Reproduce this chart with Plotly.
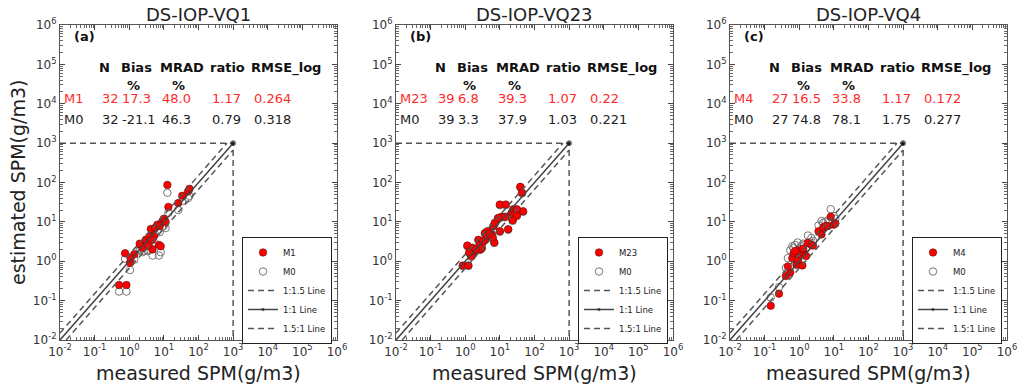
import plotly.graph_objects as go

# ---------------- data ----------------
titles = ["DS-IOP-VQ1", "DS-IOP-VQ23", "DS-IOP-VQ4"]
panel_tags = ["(a)", "(b)", "(c)"]
model_names = ["M1", "M23", "M4"]

a_measured = [12.6, 0.51, 0.83, 0.76, 1.05, 1.4, 2.1, 2.7, 3.3, 4.2, 4.7, 5.2, 6.5, 7.2, 8.1, 9.1,
              10, 13.5, 26, 34, 50, 55, 3.0, 1.1, 2.4, 3.8, 5.6, 7.6, 3.5, 2.0, 4.6, 11.2]
a_model = [87, 0.25, 0.25, 1.6, 0.91, 1.5, 2.6, 2.4, 3.0, 6.6, 2.0, 4.4, 8.5, 2.6, 2.4, 10.5,
           12, 24, 30, 46, 60, 69, 3.5, 1.2, 2.2, 4.2, 7.1, 7.9, 2.5, 2.8, 3.5, 10]
a_m0 = [55, 0.17, 0.17, 1.15, 0.6, 1.1, 2.0, 1.8, 1.9, 4.5, 1.4, 3.0, 6.0, 1.4, 1.7, 7.5,
        8.0, 17, 20, 34, 40, 46, 2.4, 0.95, 1.7, 3.0, 4.8, 5.5, 1.8, 2.0, 2.5, 7.0]

b_measured = [0.85, 1.23, 1.15, 1.6, 1.7, 1.5, 2.4, 2.6, 2.7, 3.0, 3.7, 3.7, 4.4, 4.2, 5.9, 6.5,
              7.2, 6.9, 10, 10, 14.8, 11.2, 14.1, 17.4, 21.9, 24.5, 27.5, 30.9, 23.4, 38.9,
              43.6, 46.8, 30.9, 6.2, 2.0, 3.3, 5.0, 8.9, 1.3]
b_model = [0.78, 0.78, 2.5, 2.2, 1.6, 1.35, 3.5, 2.6, 2.0, 2.2, 3.5, 5.2, 5.8, 4.4, 4.8, 7.8,
           9.5, 3.0, 5.8, 27.5, 27.5, 13.5, 13.5, 6.5, 17, 20.9, 15.5, 14.5, 11, 77.6,
           55, 18.6, 20.9, 4.0, 2.0, 3.2, 5.0, 12.6, 1.66]
b_m0 = [0.75, 0.76, 2.4, 2.1, 1.55, 1.3, 3.4, 2.5, 1.95, 2.1, 3.4, 5.0, 5.6, 4.3, 4.6, 7.6,
        9.2, 2.9, 5.6, 26.5, 26.5, 13, 13.1, 6.3, 16.5, 20.2, 15, 14, 10.6, 75,
        53, 18, 20.2, 3.9, 1.94, 3.1, 4.85, 12.2, 1.6]

c_measured = [0.15, 0.26, 0.41, 0.47, 0.55, 0.63, 0.69, 0.83, 0.89, 0.93, 1.12, 1.23, 1.38, 1.58,
              1.78, 2.24, 2.5, 3.6, 4.4, 4.9, 5.75, 6.8, 8.1, 10, 11, 0.76, 1.3]
c_model = [0.074, 0.15, 0.42, 0.74, 0.52, 1.2, 1.6, 0.81, 1.9, 1.1, 1.5, 0.78, 1.6, 1.35,
           2.95, 2.6, 2.5, 5.8, 4.8, 7.1, 7.8, 7.8, 13.5, 8.5, 9.1, 1.8, 2.1]
c_m0 = [0.12, 0.22, 0.68, 1.2, 1.9, 2.4, 2.2, 1.5, 3.0, 1.3, 2.4, 1.7, 2.6, 2.2,
        4.5, 3.9, 3.3, 8.1, 10.5, 9.5, 10, 11, 21, 14, 12, 2.6, 2.8]

stats_header = ["N", "Bias", "MRAD", "ratio", "RMSE_log"]
a_stats_model = ["32", "17.3", "48.0", "1.17", "0.264"]
a_stats_m0 = ["32", "-21.1", "46.3", "0.79", "0.318"]
b_stats_model = ["39", "6.8", "39.3", "1.07", "0.22"]
b_stats_m0 = ["39", "3.3", "37.9", "1.03", "0.221"]
c_stats_model = ["27", "16.5", "33.8", "1.17", "0.172"]
c_stats_m0 = ["27", "74.8", "78.1", "1.75", "0.277"]

tick_vals = [1e-2, 1e-1, 1e0, 1e1, 1e2, 1e3, 1e4, 1e5, 1e6]
tick_text = ["10<sup>-2</sup>", "10<sup>-1</sup>", "10<sup>0</sup>", "10<sup>1</sup>",
             "10<sup>2</sup>", "10<sup>3</sup>", "10<sup>4</sup>", "10<sup>5</sup>",
             "10<sup>6</sup>"]
axis_min = 0.01
box_limit = 1000.0
line_ratio = 1.5

panels = [
    (a_measured, a_model, a_m0, a_stats_model, a_stats_m0),
    (b_measured, b_model, b_m0, b_stats_model, b_stats_m0),
    (c_measured, c_model, c_m0, c_stats_model, c_stats_m0),
]

# ---------------- layout geometry ----------------
W, H = 1024, 389
lefts = [60, 396, 730]
pw = 277
top_px, bot_px = 25, 340
legend_right_px = [332, 668, 1002]
legend_top_px = 237


def fx(px):
    return px / W


def fy(py):
    return 1 - py / H


minor_vals = [m * 10.0 ** e for e in range(-2, 6) for m in range(2, 10)]

FONT = "DejaVu Sans, Verdana, sans-serif"
DASH = "6px,4px"
GREY = "#555555"

fig = go.Figure()
layout = {}

for i, (meas, model, m0, st_model, st_m0) in enumerate(panels):
    sfx = "" if i == 0 else str(i + 1)
    xa, ya = "x" + sfx, "y" + sfx
    leg = "legend" + sfx
    common = dict(xaxis=xa, yaxis=ya, legend=leg)

    # dashed box at 1000
    fig.add_trace(go.Scatter(x=[axis_min, box_limit, box_limit], y=[box_limit, box_limit, axis_min],
                             mode="lines", line=dict(color=GREY, width=1.5, dash=DASH),
                             showlegend=False, hoverinfo="skip", **common))
    # M0 hollow
    fig.add_trace(go.Scatter(x=meas, y=m0, mode="markers", name="M0", legendrank=2,
                             marker=dict(size=7.5, color="rgba(255,255,255,0)",
                                         line=dict(color="#777777", width=1)), **common))
    # model red
    fig.add_trace(go.Scatter(x=meas, y=model, mode="markers", name=model_names[i], legendrank=1,
                             marker=dict(size=7.5, color="#ff0000",
                                         line=dict(color="#5a1010", width=0.6)), **common))
    # 1:1.5 line
    fig.add_trace(go.Scatter(x=[axis_min, box_limit / line_ratio], y=[axis_min * line_ratio, box_limit],
                             mode="lines", name="1:1.5 Line", legendrank=3,
                             line=dict(color=GREY, width=1.5, dash=DASH), **common))
    # 1:1 line
    fig.add_trace(go.Scatter(x=[axis_min, box_limit], y=[axis_min, box_limit],
                             mode="lines+markers", name="1:1 Line", legendrank=4,
                             line=dict(color="#444444", width=1.5),
                             marker=dict(size=[0, 5], color="#000000"), **common))
    # 1.5:1 line
    fig.add_trace(go.Scatter(x=[axis_min * line_ratio, box_limit], y=[axis_min, box_limit / line_ratio],
                             mode="lines", name="1.5:1 Line", legendrank=5,
                             line=dict(color=GREY, width=1.5, dash=DASH), **common))

    axis_common = dict(type="log", range=[-2, 6], tickmode="array", tickvals=tick_vals,
                       ticktext=tick_text, ticks="inside", ticklen=5, tickwidth=1,
                       tickcolor="#444", showline=True, linecolor="#555", linewidth=1.2,
                       mirror="allticks", showgrid=False, zeroline=False, automargin=False,
                       tickfont=dict(family=FONT, size=12, color="#333"),
                       minor=dict(tickmode="array", tickvals=minor_vals, ticks="inside",
                                  ticklen=2.5, tickcolor="#666", showgrid=False))
    layout["xaxis" + sfx] = dict(domain=[fx(lefts[i]), fx(lefts[i] + pw)], anchor=ya, **axis_common)
    layout["yaxis" + sfx] = dict(domain=[fy(bot_px), fy(top_px)], anchor=xa, **axis_common)

    layout[leg] = dict(x=fx(legend_right_px[i]), xanchor="right", y=fy(legend_top_px),
                       yanchor="top", bgcolor="white", bordercolor="#222", borderwidth=1,
                       font=dict(family=FONT, size=8.5, color="#222"), tracegroupgap=0,
                       itemwidth=30)

annotations = []


def add_text(px, py, text, color="#111", size=13, xanchor="left", angle=0):
    annotations.append(dict(x=fx(px), y=fy(py), xref="paper", yref="paper", text=text,
                            showarrow=False, xanchor=xanchor, yanchor="middle", textangle=angle,
                            font=dict(family=FONT, size=size, color=color)))


header_centers = [44, 76, 122, 167, 226]
pct_centers = [73, 118]
row_lefts = [40, 60, 100, 150, 192]
for i, (meas, model, m0, st_model, st_m0) in enumerate(panels):
    L = lefts[i]
    add_text(L + pw / 2, 14, titles[i], color="#222", size=18, xanchor="center")
    add_text(L + 12, 37, "<b>" + panel_tags[i] + "</b>", size=13)
    for c, h in zip(header_centers, stats_header):
        add_text(L + c, 68, "<b>" + h + "</b>", size=13, xanchor="center")
    for c in pct_centers:
        add_text(L + c, 85, "<b>%</b>", size=13, xanchor="center")
    add_text(L + 2, 98.5, model_names[i], color="#ff2a2a")
    add_text(L + 2, 119.5, "M0", color="#222")
    for lx, v in zip(row_lefts, st_model):
        add_text(L + lx, 98.5, v, color="#ff2a2a")
    for lx, v in zip(row_lefts, st_m0):
        add_text(L + lx, 119.5, v, color="#222")
    add_text(L + pw / 2, 373, "measured SPM(g/m3)", color="#222", size=19, xanchor="center")

add_text(18, 182, "estimated SPM(g/m3)", color="#222", size=19, xanchor="center", angle=-90)

fig.update_layout(width=W, height=H, margin=dict(l=0, r=0, t=0, b=0),
                  paper_bgcolor="white", plot_bgcolor="white",
                  font=dict(family=FONT), annotations=annotations, **layout)

# remove the page's default body margin so the figure fills the window exactly
fig.write_html("out.html", config={"displayModeBar": False},
               post_script="document.body.style.margin='0px';document.body.style.overflow='hidden';")
